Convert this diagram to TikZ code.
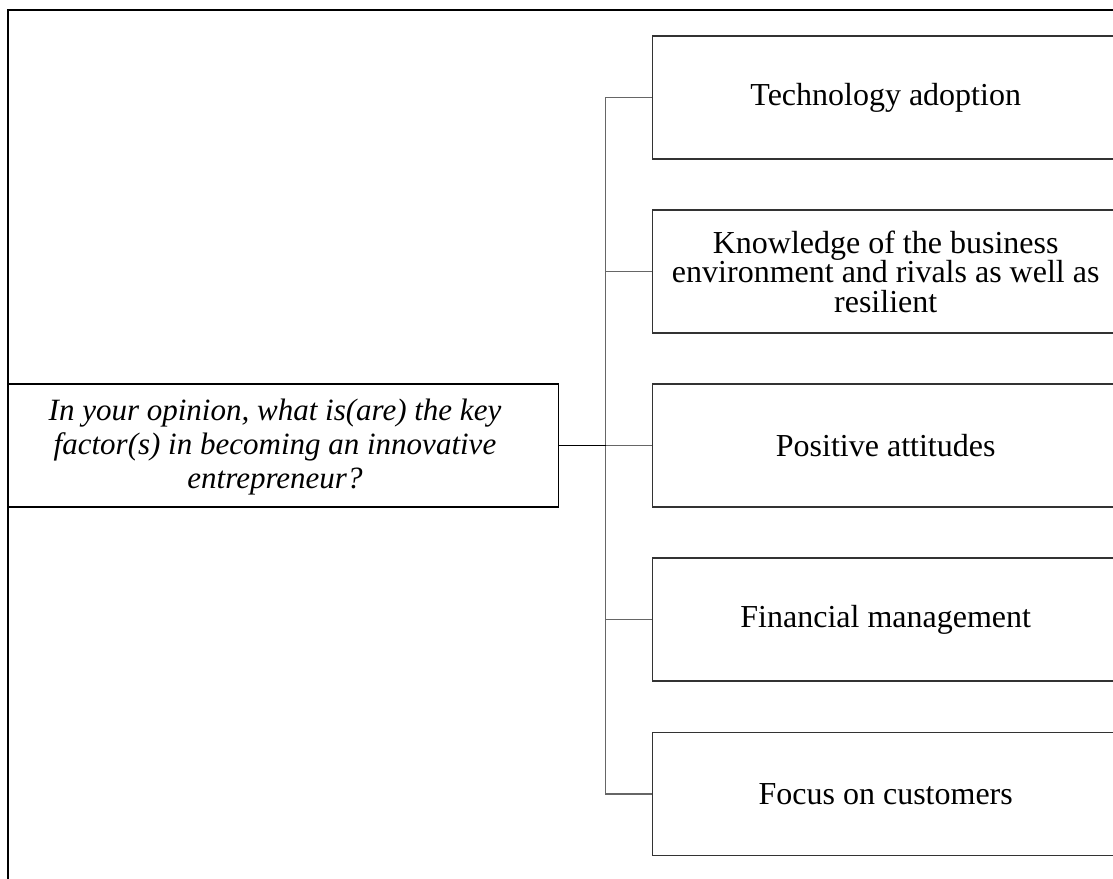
\documentclass[tikz,border=0pt]{standalone}
\usepackage{fontspec}
\setmainfont{Liberation Serif}
\definecolor{boxline}{HTML}{333333}
\definecolor{linkline}{HTML}{666666}
\begin{document}
\begin{tikzpicture}[x=1pt,y=-1pt,
  factorbox/.style={draw=boxline,line width=1.4pt,rectangle,minimum width=466pt,minimum height=123pt,
    inner sep=0pt,align=center,font=\fontsize{32}{29.5}\selectfont,anchor=west},
  questionbox/.style={draw=black,line width=1.4pt,rectangle,minimum width=550.5pt,minimum height=123pt,
    inner sep=0pt,anchor=west},
  questiontext/.style={inner sep=0pt,align=center,font=\fontsize{31}{34}\selectfont\itshape},
  link/.style={draw=linkline,line width=1.4pt}]
\useasboundingbox (0,0) rectangle (1113,878);
\clip (0,0) rectangle (1113,878);
% outer frame (top and left edges)
\coordinate (frameR) at (1120,9.5);
\coordinate (frameC) at (7.5,9.5);
\coordinate (frameB) at (7.5,885);
\draw[black,line width=2pt] (frameR) -- (frameC) -- (frameB);
% question
\node[questionbox] (q) at (7.5,445.5) {};
\node[questiontext] (qt) at (275,447) {In your opinion, what is(are) the key\\ factor(s) in becoming an innovative\\ entrepreneur?};
% factors
\node[factorbox] (b1) at (652,97.5) {Technology adoption};
\node[factorbox] (b2) at (652,271.5) {Knowledge of the business\\ environment and rivals as well as\\ resilient};
\node[factorbox] (b3) at (652,445.5) {Positive attitudes};
\node[factorbox] (b4) at (652,619.5) {Financial management};
\node[factorbox] (b5) at (652,794) {Focus on customers};
% connectors
\coordinate (jt) at (605.5,97.5);
\coordinate (jb) at (605.5,794);
\draw[link] (b1.west) -- (jt) -- (jb) -- (b5.west);
\draw[link] (b2.west) -- (b2.west -| jt);
\draw[link] (b4.west) -- (b4.west -| jt);
\draw[link] (b3.west) -- (b3.west -| jt);
\draw[black,line width=1.4pt] (q.east) -- (q.east -| jt);
\end{tikzpicture}
\end{document}
